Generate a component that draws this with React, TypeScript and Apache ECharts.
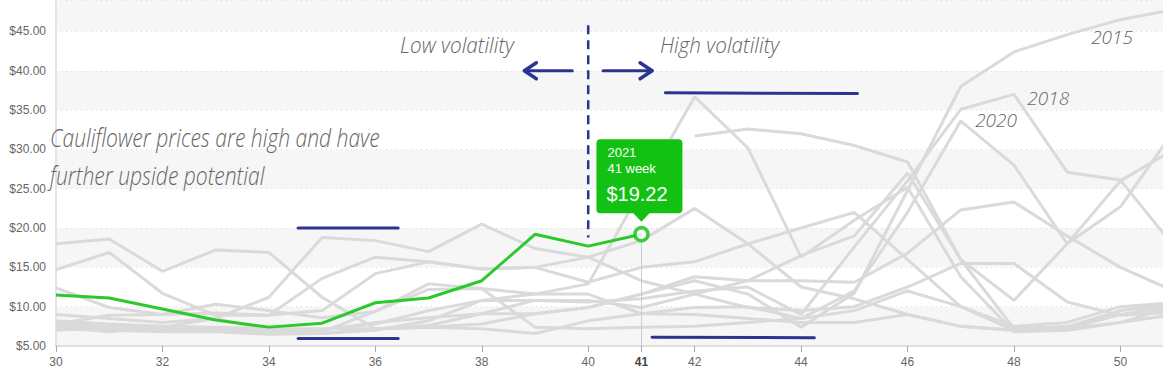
import React, { useEffect, useRef } from 'react';
import * as echarts from 'echarts';

// ---- data ----
const weeks = [30, 31, 32, 33, 34, 35, 36, 37, 38, 39, 40, 41, 42, 43, 44, 45, 46, 47, 48, 49, 50, 51];

const y2009 = [18.0, 18.6, 14.5, 17.2, 16.9, 11.2, 7.2, 7.4, 7.8, 9.1, 9.9, 11.6, 13.8, 13.3, 13.3, 13.1, 16.8, 22.3, 23.3, 19.0, 15.0, 12.0];
const y2010 = [14.7, 16.9, 11.7, 8.9, 8.9, 9.5, 14.2, 15.7, 14.8, 15.0, 16.3, 18.4, 22.5, 18.0, 12.5, 11.0, 9.0, 7.5, 7.0, 7.2, 9.0, 10.0];
const y2011 = [12.4, 9.9, 9.0, 10.3, 9.5, 8.6, 9.4, 12.9, 12.3, 11.6, 12.9, 24.8, 36.7, 30.2, 16.3, 21.0, 25.2, 13.8, 6.8, 7.0, 9.5, 10.5];
const y2012 = [null, null, null, null, null, null, null, null, null, null, null, null, 31.7, 32.6, 32.0, 30.5, 28.4, 16.0, 7.2, 7.5, 9.5, 10.2];
const y2013 = [9.0, 8.5, 8.0, 8.5, 11.2, 18.8, 18.4, 17.0, 20.5, 17.4, 16.3, 13.3, 11.6, 9.9, 9.5, 10.0, 12.5, 15.5, 15.5, 10.6, 8.9, 9.3];
const y2014 = [7.8, 8.9, 9.0, 9.2, 8.9, 13.6, 16.3, 15.7, 14.8, 15.0, 13.1, 15.0, 15.7, 18.0, 20.0, 22.0, 16.0, 10.0, 7.0, 7.2, 8.0, 9.0];
const y2015 = [8.0, 7.5, 7.4, 7.2, 7.0, 6.6, 7.2, 7.6, 9.1, 9.1, 9.9, 11.6, 13.3, 11.6, 7.4, 11.7, 24.8, 38.0, 42.4, 44.6, 46.5, 47.8];
const y2016 = [7.4, 6.8, 7.4, 8.5, 7.0, 7.1, 7.8, 9.5, 10.8, 10.8, 10.8, 9.9, 11.6, 13.3, 16.5, 19.0, 27.0, 16.0, 10.8, 18.0, 26.0, 30.0];
const y2017 = [7.2, 7.0, 6.8, 6.8, 6.5, 6.6, 7.0, 8.2, 10.8, 11.6, 11.6, 9.1, 9.0, 8.5, 8.0, 8.0, 9.0, 7.5, 7.0, 7.0, 8.0, 10.0];
const y2018 = [7.6, 7.2, 7.0, 7.0, 6.8, 7.0, 8.0, 8.6, 9.1, 10.8, 10.6, 11.0, 12.0, 12.5, 9.0, 17.6, 26.0, 35.1, 37.0, 27.1, 26.1, 17.7];
const y2019 = [8.2, 7.8, 7.5, 7.0, 6.6, 6.8, 9.4, 12.2, 12.3, 7.4, 7.2, 7.4, 7.5, 8.0, 8.5, 9.5, 12.0, 10.0, 7.5, 8.0, 10.0, 10.5];
const y2020 = [7.0, 7.4, 7.5, 7.4, 7.2, 7.2, 7.2, 7.4, 7.2, 6.6, 8.2, 9.1, 9.9, 10.0, 8.5, 12.0, 22.0, 33.6, 28.0, 18.0, 22.7, 32.3];
const y2021 = [11.5, 11.1, 9.7, 8.3, 7.4, 7.9, 10.5, 11.1, 13.3, 19.2, 17.7, 19.22];

const grayYears = ['2009', '2010', '2011', '2012', '2013', '2014', '2015', '2016', '2017', '2018', '2019', '2020'];
const grayValues = [y2009, y2010, y2011, y2012, y2013, y2014, y2015, y2016, y2017, y2018, y2019, y2020];

const currentYear = '2021';
const currentWeek = 41;
const currentPrice = 19.22;

const xLabelWeeks = [30, 32, 34, 36, 38, 40, 41, 42, 44, 46, 48, 50];

const labeledYears = [
  { text: '2015', week: 49.45, price: 44.3 },
  { text: '2018', week: 48.25, price: 36.5 },
  { text: '2020', week: 47.27, price: 33.7 },
];

const GREEN_LINE = '#2cc92c';
const GREEN_BOX = '#12c112';
const BLUE = '#2b3490';
const GRAY = '#dadada';
const HAND = '"Open Sans", "Noto Sans", sans-serif';
const SANS = '"Liberation Sans", Arial, sans-serif';

export default function App() {
  const ref = useRef<HTMLDivElement>(null);

  useEffect(() => {
    const chart = echarts.init(ref.current!, null, { renderer: 'svg' });

    const graySeries = grayValues.map((vals, i) => ({
      name: grayYears[i],
      type: 'line',
      data: vals.map((v, j) => [weeks[j], v]),
      symbol: 'none',
      lineStyle: { color: GRAY, width: 3 },
      z: 2,
      silent: true,
    }));

    chart.setOption({
      animation: false,
      grid: { left: 56, right: 0, top: 0, bottom: 27 },
      xAxis: {
        type: 'value',
        min: 30,
        max: 50.8,
        interval: 1,
        splitLine: { show: false },
        axisLine: { show: true, lineStyle: { color: '#dedede', width: 2 } },
        axisTick: {
          show: true,
          customValues: xLabelWeeks,
          length: 6,
          lineStyle: { color: '#aaaaaa', width: 1 },
        },
        axisLabel: {
          customValues: xLabelWeeks,
          margin: 10,
          fontSize: 12,
          fontFamily: SANS,
          color: '#666',
          formatter: (v: number) => (v === currentWeek ? '{b|' + v + '}' : String(v)),
          rich: { b: { fontWeight: 'bold', color: '#444', fontSize: 12, fontFamily: SANS } },
        },
      },
      yAxis: {
        type: 'value',
        min: 5,
        max: 49,
        interval: 5,
        axisLine: { show: true, lineStyle: { color: '#e4e4e4', width: 2 } },
        axisTick: { show: false },
        axisLabel: {
          margin: 10,
          fontSize: 12,
          fontFamily: SANS,
          color: '#666',
          formatter: (v: number) => (v % 5 === 0 ? '$' + v.toFixed(2) : ''),
        },
        splitLine: { show: true, lineStyle: { color: '#dddddd', type: [1, 4], width: 1 } },
        splitArea: { show: true, areaStyle: { color: ['#f6f6f6', '#ffffff'] } },
      },
      series: [
        ...graySeries,
        {
          name: currentYear,
          type: 'line',
          data: y2021.map((v, j) => [weeks[j], v]),
          symbol: 'none',
          lineStyle: { color: GREEN_LINE, width: 3 },
          z: 5,
        },
        {
          name: currentYear + ' point',
          type: 'scatter',
          data: [[currentWeek, currentPrice]],
          symbol: 'circle',
          symbolSize: 13,
          itemStyle: { color: '#ffffff', borderColor: GREEN_BOX, borderWidth: 3.5 },
          z: 7,
          markLine: {
            silent: true,
            symbol: 'none',
            label: { show: false },
            lineStyle: { color: '#cccccc', width: 1, type: 'solid' },
            data: [[{ coord: [currentWeek, currentPrice] }, { coord: [currentWeek, 5] }]],
          },
        },
      ],
    });

    const p = (x: number, y: number) => chart.convertToPixel({ gridIndex: 0 }, [x, y]) as number[];

    const seg = (a: number[], b: number[], w = 3) => ({
      type: 'line',
      shape: { x1: a[0], y1: a[1], x2: b[0], y2: b[1] },
      style: { stroke: BLUE, lineWidth: w, lineCap: 'round' },
      z: 20,
    });

    const hand = (text: string, x: number, y: number, size: number, sx: number) => ({
      type: 'text',
      x,
      y,
      scaleX: sx,
      style: { text, font: 'italic 300 ' + size + 'px ' + HAND, fill: '#666', align: 'left', verticalAlign: 'middle' },
      z: 20,
    });

    const [px, py] = p(currentWeek, currentPrice);

    const dashTop = p(40, 45.8);
    const dashBot = p(40, 18.8);

    const la1 = p(39.7, 40);
    const la2 = p(38.8, 40);
    const ra1 = p(40.28, 40);
    const ra2 = p(41.2, 40);

    const graphics: any[] = [
      {
        type: 'line',
        shape: { x1: dashTop[0], y1: dashTop[1], x2: dashBot[0], y2: dashBot[1] },
        style: { stroke: BLUE, lineWidth: 2.5, lineDash: [9, 6] },
        z: 20,
      },
      seg(la1, la2, 3),
      {
        type: 'polyline',
        shape: { points: [[la2[0] + 12, la2[1] - 8], [la2[0], la2[1]], [la2[0] + 12, la2[1] + 8]] },
        style: { stroke: BLUE, lineWidth: 3.5, fill: 'none', lineCap: 'round', lineJoin: 'round' },
        z: 20,
      },
      seg(ra1, ra2, 3),
      {
        type: 'polyline',
        shape: { points: [[ra2[0] - 12, ra2[1] - 8], [ra2[0], ra2[1]], [ra2[0] - 12, ra2[1] + 8]] },
        style: { stroke: BLUE, lineWidth: 3.5, fill: 'none', lineCap: 'round', lineJoin: 'round' },
        z: 20,
      },
      seg(p(34.55, 20), p(36.43, 20)),
      seg(p(34.55, 5.95), p(36.43, 5.95)),
      seg(p(41.45, 37.2), p(45.06, 37.1)),
      seg(p(41.2, 6.1), p(44.25, 6.05)),
      hand('Cauliflower prices are high and have', 50, 137, 26, 0.81),
      hand('further upside potential', 50, 175, 26, 0.81),
      hand('Low volatility', 400, 44, 22, 0.94),
      hand('High volatility', 660, 44, 22, 0.94),
      ...labeledYears.map((l) => {
        const q = p(l.week, l.price);
        return hand(l.text, q[0], q[1], 19, 1);
      }),
      {
        type: 'rect',
        shape: { x: px - 45, y: py - 95, width: 86, height: 74, r: 4 },
        style: { fill: GREEN_BOX },
        z: 30,
      },
      {
        type: 'polygon',
        shape: { points: [[px - 9, py - 22], [px + 9, py - 22], [px, py - 12.5]] },
        style: { fill: GREEN_BOX },
        z: 30,
      },
      {
        type: 'text',
        x: px - 34,
        y: py - 82,
        style: { text: currentYear, font: '13px ' + SANS, fill: '#ffffff', verticalAlign: 'middle' },
        z: 31,
      },
      {
        type: 'text',
        x: px - 34,
        y: py - 66,
        style: { text: currentWeek + ' week', font: '13px ' + SANS, fill: '#ffffff', verticalAlign: 'middle' },
        z: 31,
      },
      {
        type: 'text',
        x: px - 35,
        y: py - 40,
        style: { text: '$' + currentPrice.toFixed(2), font: '20px ' + SANS, fill: '#ffffff', verticalAlign: 'middle' },
        z: 31,
      },
    ];

    chart.setOption({ graphic: graphics });

    return () => chart.dispose();
  }, []);

  return <div ref={ref} style={{ position: 'absolute', left: 0, top: 0, width: 1163, height: 373 }} />;
}
